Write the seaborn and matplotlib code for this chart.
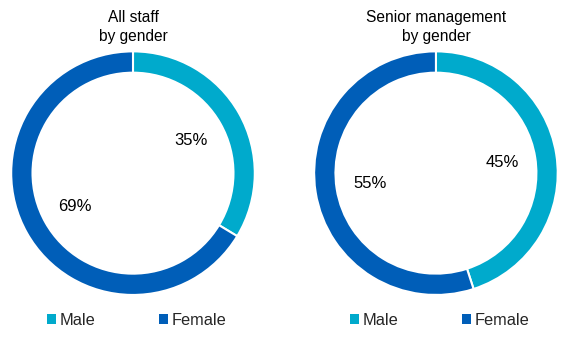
import matplotlib
matplotlib.use("Agg")
import matplotlib.pyplot as plt
import seaborn as sns
from matplotlib.patches import Patch

sns.set_theme(style="white")
plt.rcParams['font.family'] = ['Liberation Sans', 'DejaVu Sans']

categories = ["Male", "Female"]
titles = ["All staff\nby gender", "Senior management\nby gender"]
all_staff = [35, 69]
senior_mgmt = [45, 55]
colors = ["#00AACC", "#005EB8"]

fig = plt.figure(figsize=(5.73, 3.60), dpi=100)
axes_pos = [[0.0183, 0.179, 0.4276, 0.68], [0.547, 0.179, 0.4276, 0.68]]

for pos, vals, title in zip(axes_pos, [all_staff, senior_mgmt], titles):
    ax = fig.add_axes(pos)
    total = sum(vals)
    wedges, texts, autotexts = ax.pie(
        vals, colors=colors, startangle=90, counterclock=False,
        wedgeprops=dict(width=0.175, edgecolor="white", linewidth=1.5),
        autopct=lambda p, t=total: f"{p * t / 100:.0f}%",
        pctdistance=0.55,
        textprops=dict(fontsize=12, color="#000000"),
    )
    ax.set_xlim(-1.005, 1.005)
    ax.set_ylim(-1.005, 1.005)
    ax.set_aspect("equal")
    ax.set_title(title, fontsize=11.2, pad=7, linespacing=1.3, color="#000000")
    handles = [Patch(facecolor=c, edgecolor="none") for c in colors]
    ax.legend(handles, categories, loc="center", bbox_to_anchor=(0.515, -0.1),
              ncol=2, frameon=False, fontsize=11.8, handlelength=0.55,
              handleheight=0.55, handletextpad=0.2, columnspacing=3.9)

fig.savefig("out.png", dpi=100, facecolor="white")
